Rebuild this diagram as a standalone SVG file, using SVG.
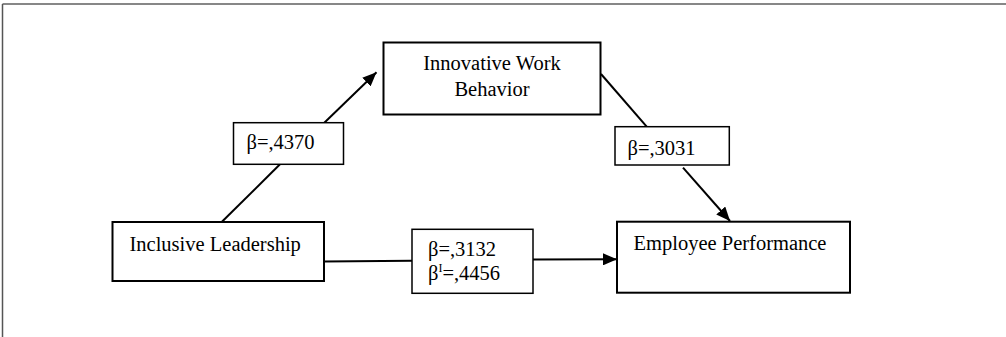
<svg xmlns="http://www.w3.org/2000/svg" width="1006" height="337" viewBox="0 0 1006 337">
<style>
.box{fill:#fff;stroke:#000;stroke-width:2}
.lbl{fill:#fff;stroke:#000;stroke-width:1.5}
.t{font-family:"Liberation Serif","Times New Roman",serif;font-size:20.5px;fill:#000}
.c{stroke:#000;stroke-width:2;fill:none}
</style>
<defs>
<marker id="ah" viewBox="0 0 14 12" refX="14" refY="6" markerWidth="14" markerHeight="12" markerUnits="userSpaceOnUse" orient="auto">
<path d="M0,0 L14,6 L0,12 Z" fill="#000"/>
</marker>
</defs>
<rect width="1006" height="337" fill="#fff"/>
<line x1="2.5" y1="4" x2="1006" y2="4" stroke="#111" stroke-width="1.2"/>
<line x1="2.5" y1="4" x2="2.5" y2="337" stroke="#555" stroke-width="1.5"/>
<g id="connectors">
<line class="c" x1="221.7" y1="222" x2="280" y2="164.3"/>
<line class="c" x1="324.3" y1="122.7" x2="376.5" y2="72.3" marker-end="url(#ah)"/>
<line class="c" x1="601" y1="74" x2="646.7" y2="126.7"/>
<line class="c" x1="683" y1="167.7" x2="730" y2="221" marker-end="url(#ah)"/>
<line class="c" x1="324" y1="261.5" x2="412" y2="260.7"/>
<line class="c" x1="533" y1="259.5" x2="617" y2="259.3" marker-end="url(#ah)"/>
</g>
<g id="innovative">
<rect class="box" x="383.5" y="42.5" width="217" height="72"/>
<text class="t" x="492" y="70" text-anchor="middle">Innovative Work</text>
<text class="t" x="492" y="96" text-anchor="middle">Behavior</text>
</g>
<g id="inclusive">
<rect class="box" x="112.5" y="222" width="211.5" height="59"/>
<text class="t" x="129.5" y="251">Inclusive Leadership</text>
</g>
<g id="employee">
<rect class="box" x="617" y="221.7" width="233" height="71"/>
<text class="t" x="633.5" y="250">Employee Performance</text>
</g>
<g id="beta4370">
<rect class="lbl" x="233.5" y="122.7" width="110" height="41.6"/>
<text class="t" x="246.5" y="148.5">β=,4370</text>
</g>
<g id="beta3031">
<rect class="lbl" x="615" y="126.7" width="114.3" height="38.3"/>
<text class="t" x="627.5" y="154.5">β=,3031</text>
</g>
<g id="beta3132">
<rect class="lbl" x="412" y="229.3" width="121" height="64"/>
<text class="t" x="428" y="256">β=,3132</text>
<text class="t" x="428" y="280">β<tspan font-size="12" dy="-8">I</tspan><tspan dy="8">=,4456</tspan></text>
</g>
</svg>
